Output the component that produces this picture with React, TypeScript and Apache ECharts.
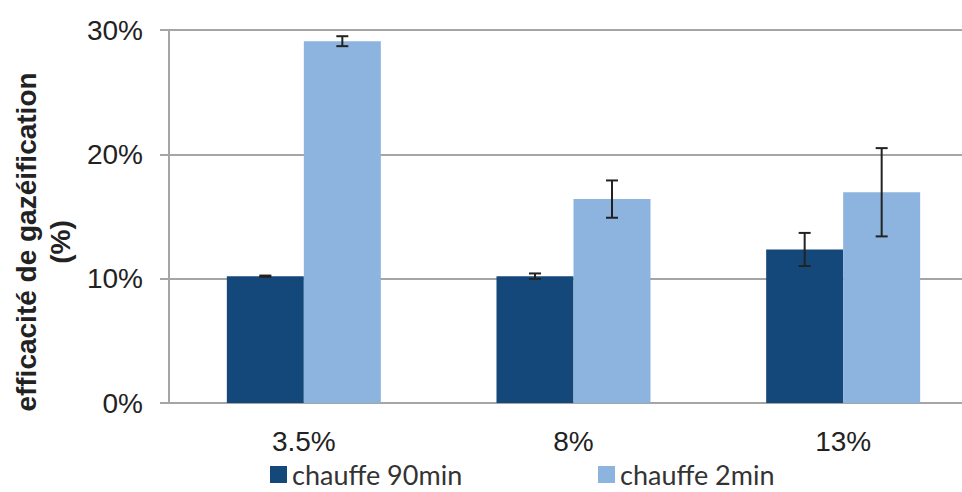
import React, { useEffect, useRef } from "react";
import * as echarts from "echarts";

const categories = ["3.5%", "8%", "13%"];
const seriesNames = ["chauffe 90min", "chauffe 2min"];
const values90 = [10.2, 10.2, 12.35];
const errors90 = [0.05, 0.22, 1.33];
const values2 = [29.1, 16.4, 16.95];
const errors2 = [0.4, 1.5, 3.55];
const yTicks = [0, 10, 20, 30];

const DARK = "#14477a";
const LIGHT = "#8db3df";
const BAR_W = 77;

export default function App() {
  const ref = useRef<HTMLDivElement>(null);
  useEffect(() => {
    if (!ref.current) return;
    const chart = echarts.init(ref.current, null, { renderer: "svg" });
    const errData = (vals: number[], errs: number[]) =>
      vals.map((v, i) => [i, v - errs[i], v + errs[i]]);
    const makeErr = (offset: number) => (params: any, api: any) => {
      const lo = api.coord([api.value(0), api.value(1)]);
      const hi = api.coord([api.value(0), api.value(2)]);
      const x = lo[0] + offset;
      const cap = 6;
      const st = { stroke: "#222", lineWidth: 2 };
      return {
        type: "group",
        children: [
          { type: "line", shape: { x1: x, y1: lo[1], x2: x, y2: hi[1] }, style: st },
          { type: "line", shape: { x1: x - cap, y1: lo[1], x2: x + cap, y2: lo[1] }, style: st },
          { type: "line", shape: { x1: x - cap, y1: hi[1], x2: x + cap, y2: hi[1] }, style: st },
        ],
      };
    };
    const legendText = { fontSize: 27, color: "#333", fontFamily: "Lato, sans-serif" };
    chart.setOption({
      animation: false,
      backgroundColor: "#ffffff",
      grid: { left: 169, right: 0, top: 30, bottom: 89, containLabel: false },
      xAxis: {
        type: "category",
        data: categories,
        axisLine: { lineStyle: { color: "#a5a5a5", width: 2 } },
        axisTick: { show: false },
        axisLabel: {
          margin: 24,
          fontSize: 28,
          color: "#222",
          fontFamily: "'Liberation Sans', Arial, sans-serif",
        },
      },
      yAxis: {
        type: "value",
        min: 0,
        max: 30,
        interval: 10,
        axisLine: { show: true, lineStyle: { color: "#a5a5a5", width: 2 } },
        axisTick: { show: true, length: 9, lineStyle: { color: "#a5a5a5", width: 2 } },
        splitLine: { lineStyle: { color: "#a5a5a5", width: 2 } },
        axisLabel: {
          margin: 26,
          fontSize: 28,
          color: "#222",
          fontFamily: "'Liberation Sans', Arial, sans-serif",
          formatter: (v: number) => (yTicks.includes(v) ? v + "%" : ""),
        },
      },
      legend: [
        {
          data: [seriesNames[0]],
          left: 270,
          top: 461,
          padding: 0,
          itemWidth: 17,
          itemHeight: 17,
          icon: "rect",
          textStyle: legendText,
        },
        {
          data: [seriesNames[1]],
          left: 598,
          top: 461,
          padding: 0,
          itemWidth: 17,
          itemHeight: 17,
          icon: "rect",
          textStyle: legendText,
        },
      ],
      graphic: [
        {
          type: "text",
          x: 26,
          y: 242,
          rotation: Math.PI / 2,
          style: {
            text: "efficacité de gazéification",
            font: "bold 28px 'Liberation Sans', Arial, sans-serif",
            fill: "#222",
            align: "center",
            verticalAlign: "middle",
          },
        },
        {
          type: "text",
          x: 60,
          y: 242,
          rotation: Math.PI / 2,
          style: {
            text: "(%)",
            font: "bold 28px 'Liberation Sans', Arial, sans-serif",
            fill: "#222",
            align: "center",
            verticalAlign: "middle",
          },
        },
      ],
      series: [
        {
          name: seriesNames[0],
          type: "bar",
          data: values90,
          barWidth: BAR_W,
          barGap: "0%",
          itemStyle: { color: DARK },
        },
        {
          name: seriesNames[1],
          type: "bar",
          data: values2,
          barWidth: BAR_W,
          barGap: "0%",
          itemStyle: { color: LIGHT },
        },
        {
          type: "custom",
          data: errData(values90, errors90),
          encode: { x: 0, y: [1, 2] },
          renderItem: makeErr(-BAR_W / 2),
          z: 10,
        },
        {
          type: "custom",
          data: errData(values2, errors2),
          encode: { x: 0, y: [1, 2] },
          renderItem: makeErr(BAR_W / 2),
          z: 10,
        },
      ],
    });
    return () => chart.dispose();
  }, []);
  return (
    <div style={{ position: "fixed", left: 0, top: 0, width: 962, height: 492, overflow: "hidden" }}>
      <div ref={ref} style={{ width: 978, height: 492 }} />
    </div>
  );
}
